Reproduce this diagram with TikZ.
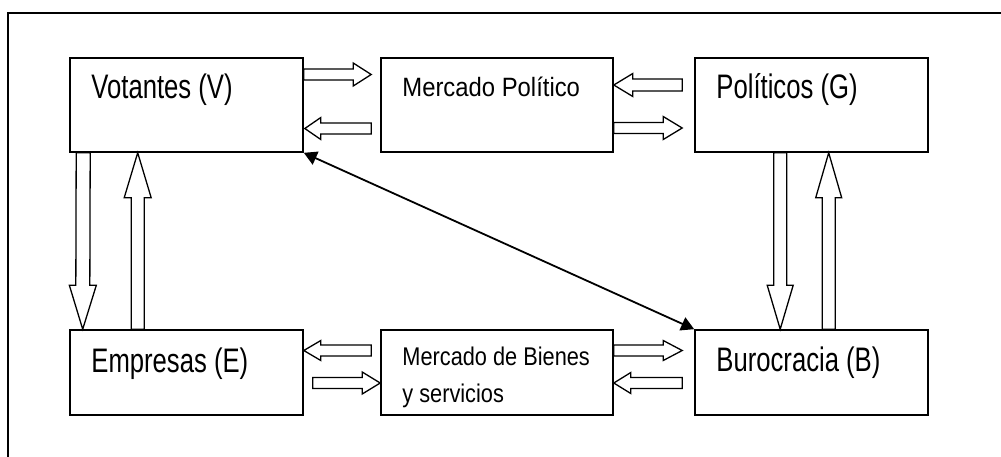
\documentclass[tikz,border=0pt]{standalone}
\usepackage{fontspec}
\setmainfont{Liberation Sans}
\newfontfamily\bigfont[FakeStretch=0.755]{Liberation Sans}
\newfontfamily\midfont[FakeStretch=0.9]{Liberation Sans}
\newfontfamily\smallfont[FakeStretch=0.85]{Liberation Sans}
\usetikzlibrary{calc,arrows.meta}
\newcommand\blockarr[5]{%
  \coordinate (hb) at ($(#2)!#5!(#1)$);
  \draw[blk] ($(#1)!#3!90:(#2)$) -- ($(hb)!#3!90:(#2)$) -- ($(hb)!#4!90:(#2)$) -- (#2)
    -- ($(hb)!#4!-90:(#2)$) -- ($(hb)!#3!-90:(#2)$) -- ($(#1)!#3!-90:(#2)$) -- cycle;}
\begin{document}
\begin{tikzpicture}[x=1pt,y=-1pt,
  box/.style={draw, line width=1.6pt, rectangle, inner sep=0pt},
  lbl/.style={anchor=base west, inner sep=0pt, font=\bigfont\fontsize{34}{40}\selectfont},
  lblm/.style={anchor=base west, inner sep=0pt, font=\midfont\fontsize{26.5}{31}\selectfont},
  lbls/.style={anchor=base west, inner sep=0pt, font=\smallfont\fontsize{25.6}{30}\selectfont},
  blk/.style={draw, line width=1.3pt, fill=white, line join=miter}]
\useasboundingbox (0,0) rectangle (1001,456);
\begin{scope}
  \clip (0,0) rectangle (1001,456);
  \draw[line width=1.6pt] (8,480) -- (8,13) -- (1020,13);
\end{scope}
% boxes
\node[box, minimum width=233pt, minimum height=94pt] (V) at (186.5,105) {};
\node[box, minimum width=232pt, minimum height=94pt] (M1) at (497,105) {};
\node[box, minimum width=233pt, minimum height=94pt] (G) at (811.5,105) {};
\node[box, minimum width=233pt, minimum height=85pt] (E) at (186.5,372.5) {};
\node[box, minimum width=232pt, minimum height=85pt] (M2) at (497,372.5) {};
\node[box, minimum width=233pt, minimum height=85pt] (B) at (811.5,372.5) {};
% texts
\node[lbl] (tV) at ($(V.north west)+(22,41.3)$) {Votantes (V)};
\node[lblm] (tM1) at ($(M1.north west)+(22,39.5)$) {Mercado Político};
\node[lbl] (tG) at ($(G.north west)+(22,41.3)$) {Políticos (G)};
\node[lbl] (tE) at ($(E.north west)+(22,43)$) {Empresas (E)};
\node[lbl] (tB) at ($(B.north west)+(22,42)$) {Burocracia (B)};
\begin{scope}
  \clip (M2.north west) rectangle (M2.south east);
  \node[lbls] (tM2a) at ($(M2.north west)+(22,36.7)$) {Mercado de Bienes};
  \node[lbls] (tM2b) at ($(M2.north west)+(22,73.3)$) {y servicios};
\end{scope}
% arrow end points
\coordinate (a1s) at ($(V.east)+(0,-30.5)$);
\coordinate (a1e) at ($(M1.west)+(-9,-30.5)$);
\coordinate (a2s) at ($(M1.west)+(-9,23.5)$);
\coordinate (a2e) at ($(V.east)+(1,23.5)$);
\coordinate (a3s) at ($(G.west)+(-12,-20)$);
\coordinate (a3e) at ($(M1.east)+(0,-20)$);
\coordinate (a4s) at ($(M1.east)+(0,23)$);
\coordinate (a4e) at ($(G.west)+(-12,23)$);
\coordinate (a5s) at ($(V.south west)+(14,0)$);
\coordinate (a5e) at ($(E.north west)+(13.5,0)$);
\coordinate (a6s) at ($(E.north west)+(68.5,0)$);
\coordinate (a6e) at ($(V.south west)+(68.5,0)$);
\coordinate (a7s) at ($(G.south west)+(86,0)$);
\coordinate (a7e) at ($(B.north west)+(86,0)$);
\coordinate (a8s) at ($(B.north west)+(134.5,0)$);
\coordinate (a8e) at ($(G.south west)+(134.5,0)$);
\coordinate (a9s) at ($(M2.west)+(-9,-22)$);
\coordinate (a9e) at ($(E.east)+(0,-22)$);
\coordinate (a10s) at ($(E.east)+(9,10.5)$);
\coordinate (a10e) at ($(M2.west)+(0,10.5)$);
\coordinate (a11s) at ($(M2.east)+(0,-22)$);
\coordinate (a11e) at ($(B.west)+(-12,-22)$);
\coordinate (a12s) at ($(B.west)+(-12,10.5)$);
\coordinate (a12e) at ($(M2.east)+(0,10.5)$);
% block arrows
\blockarr{a1s}{a1e}{5.5pt}{11.5pt}{18pt}
\blockarr{a2s}{a2e}{5.5pt}{11pt}{16pt}
\blockarr{a3s}{a3e}{6pt}{11.5pt}{19pt}
\blockarr{a4s}{a4e}{5.5pt}{11.5pt}{19pt}
\blockarr{a5s}{a5e}{7pt}{13.5pt}{44pt}
\blockarr{a6s}{a6e}{6.5pt}{13.5pt}{45pt}
\blockarr{a7s}{a7e}{6.5pt}{13pt}{44pt}
\blockarr{a8s}{a8e}{6.5pt}{13pt}{45pt}
\blockarr{a9s}{a9e}{5.5pt}{10pt}{17pt}
\blockarr{a10s}{a10e}{5.5pt}{11pt}{18pt}
\blockarr{a11s}{a11e}{5.5pt}{10pt}{19pt}
\blockarr{a12s}{a12e}{5.5pt}{10.5pt}{17pt}
% diagonal double arrow
\draw[line width=1.8pt, {Triangle[length=13pt,width=14pt]}-{Triangle[length=13pt,width=14pt]}] (V.south east) -- (B.north west);
\end{tikzpicture}
\end{document}
